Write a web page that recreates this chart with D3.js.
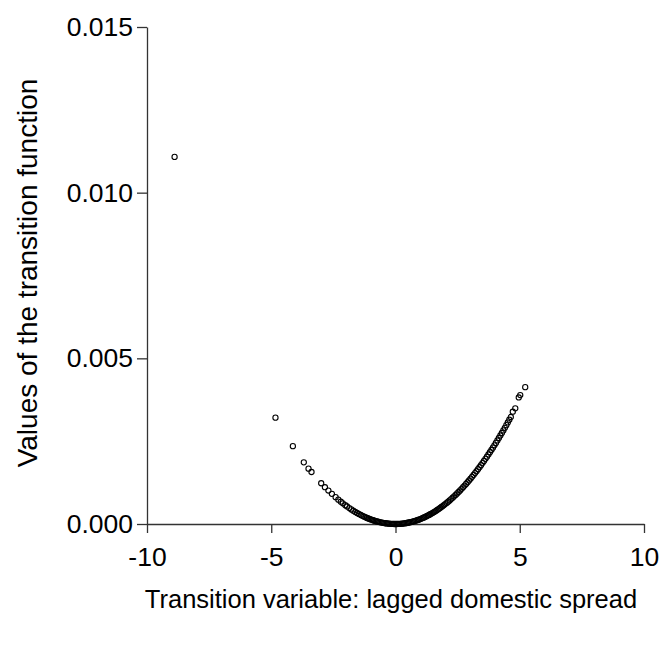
<!DOCTYPE html>
<html lang="en">
<head>
  <meta charset="UTF-8">
  <title>Transition function scatter</title>
  <script src="https://d3js.org/d3.v7.min.js"></script>
  <style>
    body { margin: 0; background: #fff; }
    text { font-family: Arial, "Liberation Sans", sans-serif; fill: #000; }
  </style>
</head>
<body>
  <script>
    const width = 661, height = 646;

    // transition variable (lagged domestic spread)
    const xs = [
      -8.89, -4.83, -4.13, -3.69, -3.50, -3.38, -2.99, -2.84, -2.70, -2.56, -2.41,
      -2.30, -2.20, -2.12, -2.02, -1.95, -1.86, -1.78, -1.70, -1.62, -1.55, -1.48,
      -1.40, -1.33, -1.26, -1.20,
      -1.15, -1.10, -1.05, -1.00, -0.95, -0.90, -0.85, -0.80, -0.75, -0.70, -0.65,
      -0.60, -0.55, -0.50, -0.45, -0.40, -0.35, -0.30, -0.25, -0.20, -0.15, -0.10,
      -0.05, 0.00,
      0.05, 0.10, 0.15, 0.20, 0.25, 0.30, 0.35, 0.40, 0.45, 0.50, 0.55, 0.60, 0.65,
      0.70, 0.75, 0.80, 0.85, 0.90, 0.95, 1.00, 1.05, 1.10, 1.15, 1.20, 1.25, 1.30,
      1.35, 1.40, 1.45, 1.50, 1.55, 1.60, 1.65, 1.70, 1.75, 1.80, 1.85, 1.90, 1.95,
      2.00, 2.06, 2.12, 2.18, 2.24, 2.30, 2.36, 2.42, 2.48, 2.54, 2.60, 2.66, 2.72,
      2.78, 2.84, 2.90, 2.96, 3.02, 3.08, 3.14, 3.20, 3.26, 3.32, 3.38, 3.44, 3.50,
      3.56, 3.62, 3.68, 3.74, 3.80, 3.86, 3.92, 3.98, 4.04, 4.10, 4.16, 4.22, 4.28,
      4.34, 4.40, 4.46, 4.52, 4.58, 4.64, 4.72, 4.82, 4.96, 5.02, 5.22
    ];

    // values of the transition function
    const ys = [
      0.01108, 0.00321, 0.00235, 0.00186, 0.00167, 0.00157, 0.00123, 0.00111, 0.00101, 0.00091, 0.00081,
      0.000735, 0.000673, 0.000625, 0.000567, 0.000529, 0.000481, 0.000440, 0.000402, 0.000365, 0.000334, 0.000304,
      0.000272, 0.000246, 0.000221, 0.000200,
      0.000184, 0.000168, 0.000153, 0.000139, 0.000125, 0.000113, 0.000100, 0.0000890, 0.0000782, 0.0000681, 0.0000587,
      0.0000500, 0.0000420, 0.0000348, 0.0000281, 0.0000222, 0.0000170, 0.0000125, 0.0000087, 0.0000056, 0.0000031, 0.0000014,
      0.0000003, 0,
      0.0000004, 0.0000015, 0.0000034, 0.0000060, 0.0000094, 0.0000135, 0.0000184, 0.0000240, 0.0000304, 0.0000375, 0.0000454, 0.0000540, 0.0000634,
      0.0000735, 0.0000844, 0.0000960, 0.000108, 0.000122, 0.000135, 0.000150, 0.000165, 0.000182, 0.000198, 0.000216, 0.000234, 0.000254,
      0.000273, 0.000294, 0.000315, 0.000338, 0.000360, 0.000384, 0.000408, 0.000434, 0.000459, 0.000486, 0.000513, 0.000542, 0.000570,
      0.000600, 0.000637, 0.000674, 0.000713, 0.000753, 0.000794, 0.000835, 0.000878, 0.000923, 0.000968, 0.001014, 0.001061, 0.001110,
      0.001159, 0.001210, 0.001262, 0.001314, 0.001368, 0.001423, 0.001479, 0.001536, 0.001594, 0.001653, 0.001714, 0.001775, 0.001838,
      0.001901, 0.001966, 0.002031, 0.002098, 0.002166, 0.002235, 0.002305, 0.002376, 0.002448, 0.002522, 0.002596, 0.002671, 0.002748,
      0.002825, 0.002904, 0.002984, 0.003065, 0.003146, 0.003229, 0.00339, 0.00349, 0.00382, 0.00389, 0.00413
    ];

    const xTicks = [-10, -5, 0, 5, 10];
    const yTicks = [0, 0.005, 0.010, 0.015];

    const svg = d3.select('body')
      .append('svg')
      .attr('width', width)
      .attr('height', height);

    const xScale = d3.scaleLinear().domain([-10, 10]).range([147, 644]);
    const yScale = d3.scaleLinear().domain([0, 0.015]).range([524, 27]);

    const xAxis = d3.axisBottom(xScale)
      .tickValues(xTicks)
      .tickFormat(d => String(d))   // plain hyphen, not the unicode minus
      .tickSizeInner(9)
      .tickSizeOuter(0)
      .tickPadding(14);

    const yAxis = d3.axisLeft(yScale)
      .tickValues(yTicks)
      .tickFormat(d3.format('.3f'))
      .tickSizeInner(10)
      .tickSizeOuter(0)
      .tickPadding(4);

    const gx = svg.append('g')
      .attr('transform', `translate(0, ${yScale(0)})`)
      .call(xAxis);
    const gy = svg.append('g')
      .attr('transform', `translate(${xScale(-10)}, 0)`)
      .call(yAxis);

    [gx, gy].forEach(g => {
      g.selectAll('path, line').attr('stroke', '#333').attr('stroke-width', 1.3);
      g.selectAll('text')
        .attr('fill', '#000')
        .style('font-size', '26.5px')
        .style('font-family', 'Arial, "Liberation Sans", sans-serif');
    });

    // points
    svg.append('g')
      .selectAll('circle')
      .data(xs.map((x, i) => [x, ys[i]]))
      .join('circle')
      .attr('cx', d => xScale(d[0]))
      .attr('cy', d => yScale(d[1]))
      .attr('r', 2.6)
      .attr('fill', 'none')
      .attr('stroke', '#000')
      .attr('stroke-width', 1.1);

    // axis titles
    svg.append('text')
      .attr('x', 391)
      .attr('y', 608)
      .attr('text-anchor', 'middle')
      .style('font-size', '25.5px')
      .text('Transition variable: lagged domestic spread');

    svg.append('text')
      .attr('transform', 'translate(37, 273) rotate(-90)')
      .attr('text-anchor', 'middle')
      .style('font-size', '28px')
      .text('Values of the transition function');
  </script>
</body>
</html>
